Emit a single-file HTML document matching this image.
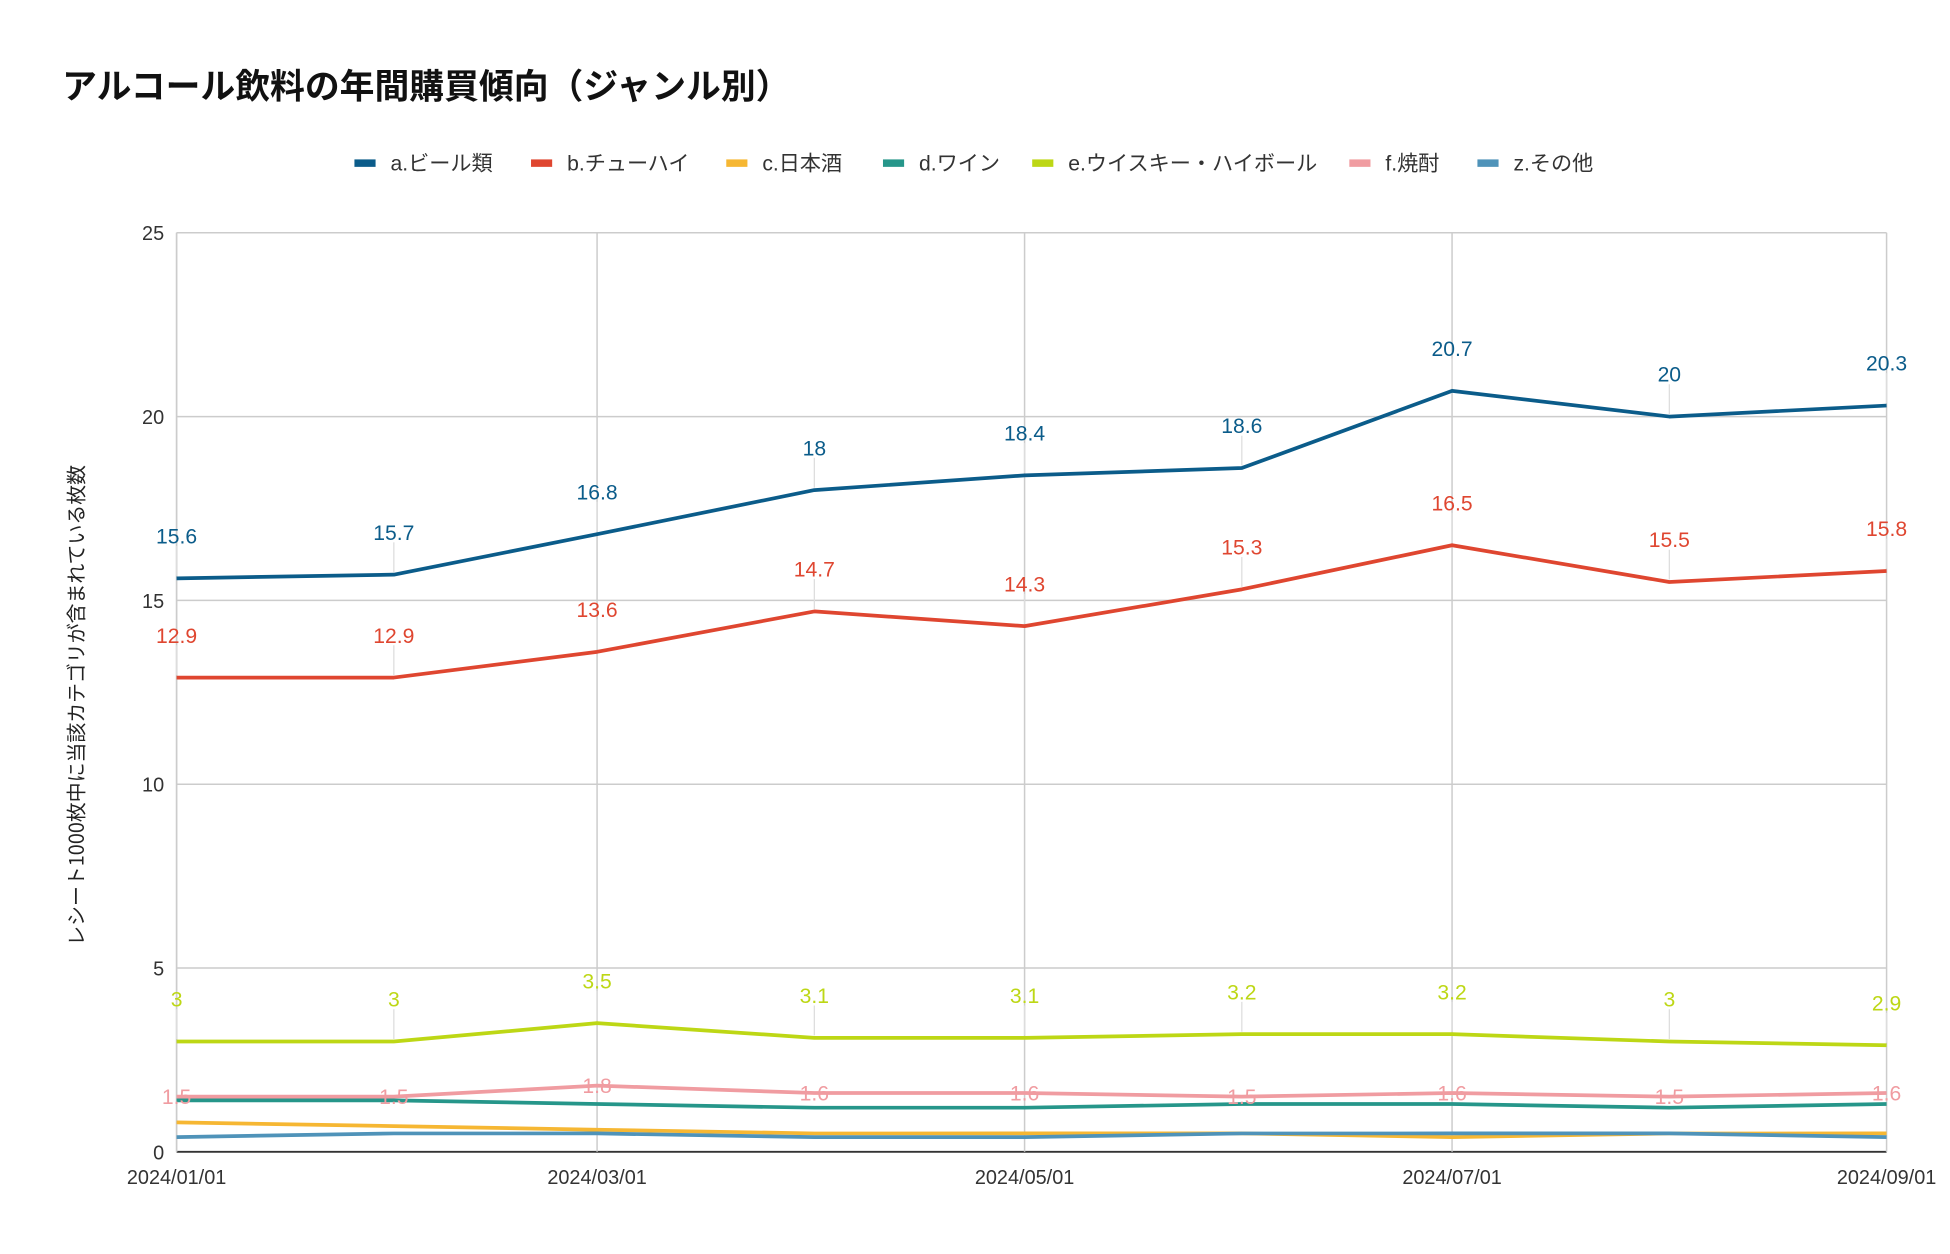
<!DOCTYPE html>
<html><head><meta charset="utf-8"><style>
html,body{margin:0;padding:0;background:#fff;}
svg{display:block;font-family:"Liberation Sans","Noto Sans CJK JP",sans-serif;}
</style></head><body>
<svg id="chart" width="1950" height="1254" viewBox="0 0 1568 1008" xmlns="http://www.w3.org/2000/svg">
<text x="50" y="79" font-size="28" font-weight="bold" fill="#111" font-family="'Noto Sans CJK JP',sans-serif">アルコール飲料の年間購買傾向（ジャンル別）</text>
<g id="legend"></g>
<g id="grid"></g>
<text transform="translate(67,567) rotate(-90)" text-anchor="middle" font-size="16" fill="#222" font-family="'Noto Sans CJK JP',sans-serif">レシート1000枚中に当該カテゴリが含まれている枚数</text>
<g id="series"></g>
<g id="labels"></g>
</svg>
<script>
const dates = ["2024/01/01","2024/02/01","2024/03/01","2024/04/01","2024/05/01","2024/06/01","2024/07/01","2024/08/01","2024/09/01"];
const xTickLabels = ["2024/01/01","2024/03/01","2024/05/01","2024/07/01","2024/09/01"];
const yTicks = [0,5,10,15,20,25];
const seriesNames = ["a.ビール類","b.チューハイ","c.日本酒","d.ワイン","e.ウイスキー・ハイボール","f.焼酎","z.その他"];
const seriesColors = ["#0b5c8a","#df4630","#f6b733","#26968a","#bdd715","#f09ca1","#4f93b9"];
const beer = [15.6,15.7,16.8,18,18.4,18.6,20.7,20,20.3];
const chuhai = [12.9,12.9,13.6,14.7,14.3,15.3,16.5,15.5,15.8];
const sake = [0.8,0.7,0.6,0.5,0.5,0.5,0.4,0.5,0.5];
const wine = [1.4,1.4,1.3,1.2,1.2,1.3,1.3,1.2,1.3];
const whisky = [3,3,3.5,3.1,3.1,3.2,3.2,3,2.9];
const shochu = [1.5,1.5,1.8,1.6,1.6,1.5,1.6,1.5,1.6];
const other = [0.4,0.5,0.5,0.4,0.4,0.5,0.5,0.5,0.4];

const NS="http://www.w3.org/2000/svg";
const L=142,R=1517,T=187,B=926,YMAX=25;
const t0=Date.parse(dates[0].replace(/\//g,"-")), t1=Date.parse(dates[dates.length-1].replace(/\//g,"-"));
function xs(d){return L+(R-L)*(Date.parse(d.replace(/\//g,"-"))-t0)/(t1-t0);}
function ys(v){return B-(B-T)*v/YMAX;}
function mk(tag,attrs,parent){const e=document.createElementNS(NS,tag);for(const k in attrs)e.setAttribute(k,attrs[k]);parent.appendChild(e);return e;}

const grid=document.getElementById('grid');
yTicks.forEach(v=>{
  const l=mk('line',{x1:L,x2:R,y1:ys(v),y2:ys(v),stroke:v===0?'#333':'#ccc','stroke-width':v===0?1.5:1.2},grid);
  
  
  const t=mk('text',{x:L-10,y:ys(v)+6,'text-anchor':'end','font-size':16,fill:'#333'},grid);
  t.textContent=v;
  
  
});
xTickLabels.forEach(d=>{
  const x=xs(d);
  const l=mk('line',{x1:x,x2:x,y1:T,y2:B,stroke:'#ccc','stroke-width':1.2},grid);
  
  
  const t=mk('text',{x:x,y:952,'text-anchor':'middle','font-size':16,fill:'#333'},grid);
  t.textContent=d;
  
  
});
mk('line',{x1:L,x2:L,y1:T,y2:B,stroke:'#ccc','stroke-width':1.2},grid);

const legend=document.getElementById('legend');
const legX=[285,427,584,710,830,1085,1188];
seriesNames.forEach((n,i)=>{
  const g=mk('g',{},legend);
  
  
  mk('rect',{x:legX[i],y:128,width:17,height:6,fill:seriesColors[i]},g);
  const t=mk('text',{x:legX[i]+29,y:137,'font-size':17,fill:'#333'},g);
  t.textContent=n;
});

const allSeries=[beer,chuhai,sake,wine,whisky,shochu,other];
const order=[2,6,3,5,4,1,0];
const sg=document.getElementById('series');
order.forEach(i=>{
  const vals=allSeries[i];
  const p=mk('polyline',{points:vals.map((v,j)=>xs(dates[j])+','+ys(v)).join(' '),fill:'none',stroke:seriesColors[i],'stroke-width':3,'stroke-linejoin':'round'},sg);
  
  
});
const lg=document.getElementById('labels');
const labelled=[[0,34],[1,34],[4,34],[5,0]];
labelled.forEach(([i,off])=>{
  allSeries[i].forEach((v,j)=>{
    const x=xs(dates[j]),y=ys(v);
    if(off>0) mk('line',{x1:x,x2:x,y1:y-2,y2:y-off+8,stroke:'#ddd','stroke-width':1},lg);
    const t=mk('text',{x:x,y:y-off+6,'text-anchor':'middle','font-size':17,fill:seriesColors[i]},lg);
    t.textContent=v;
    
    
  });
});
</script>
</body></html>
